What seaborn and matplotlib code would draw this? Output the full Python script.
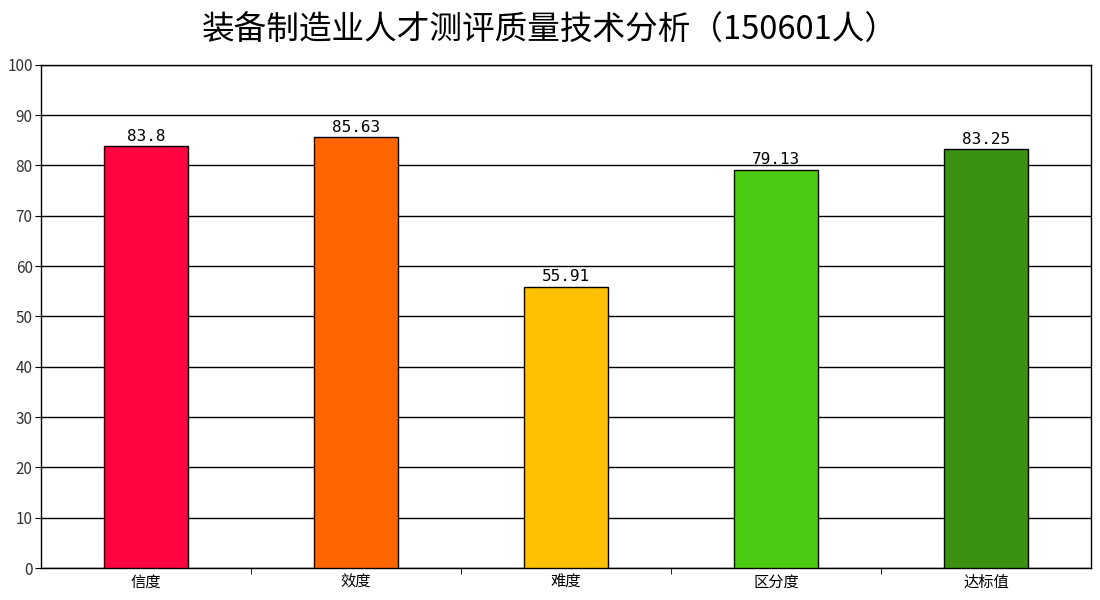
import matplotlib
matplotlib.use("Agg")
from matplotlib import pyplot as plt
import seaborn as sns
import pandas as pd

categories = ["信度", "效度", "难度", "区分度", "达标值"]
values = [83.8, 85.63, 55.91, 79.13, 83.25]
colors = ["#FF0440", "#FF6600", "#FFC000", "#4CCB13", "#3B9212"]
title = "装备制造业人才测评质量技术分析（150601人）"

sns.set_style("white")
plt.rcParams['font.family'] = ['Noto Sans CJK SC', 'DejaVu Sans']
plt.rcParams['text.color'] = 'black'

df = pd.DataFrame({"cat": categories, "val": values})

fig = plt.figure(figsize=(11, 6), dpi=100)
ax = fig.add_axes([0.0373, 0.0533, 0.9545, 0.8387])

sns.barplot(data=df, x="cat", y="val", hue="cat", palette=colors,
            saturation=1, width=0.4, edgecolor="black", linewidth=1,
            legend=False, ax=ax, zorder=3)

ax.set_ylim(0, 100)
ax.set_xlim(-0.5, len(categories) - 0.5)
ax.set_yticks(range(0, 101, 10))
ax.yaxis.grid(True, color="black", linewidth=1, zorder=0)
ax.set_axisbelow(True)
for s in ax.spines.values():
    s.set_color("black")
    s.set_linewidth(1)

ax.set_xticks(range(len(categories)))
ax.set_xticklabels(categories, fontsize=11, color="black")
ax.tick_params(axis="x", length=0, pad=4)
ax.tick_params(axis="y", left=True, length=4, color="black", labelsize=11,
               labelcolor="#333333", pad=2)
# minor ticks between categories
ax.set_xticks([i + 0.5 for i in range(len(categories) - 1)], minor=True)
ax.tick_params(axis="x", which="minor", bottom=True, length=4, color="black")

for i, v in enumerate(values):
    ax.text(i, v + 0.5, f"{v:g}", ha="center", va="bottom", fontsize=11.5,
            color="black", family="DejaVu Sans Mono")

ax.set_xlabel("")
ax.set_ylabel("")
fig.suptitle(title, fontsize=23.5, y=0.975, color="black")

fig.savefig("out.png", dpi=100)
